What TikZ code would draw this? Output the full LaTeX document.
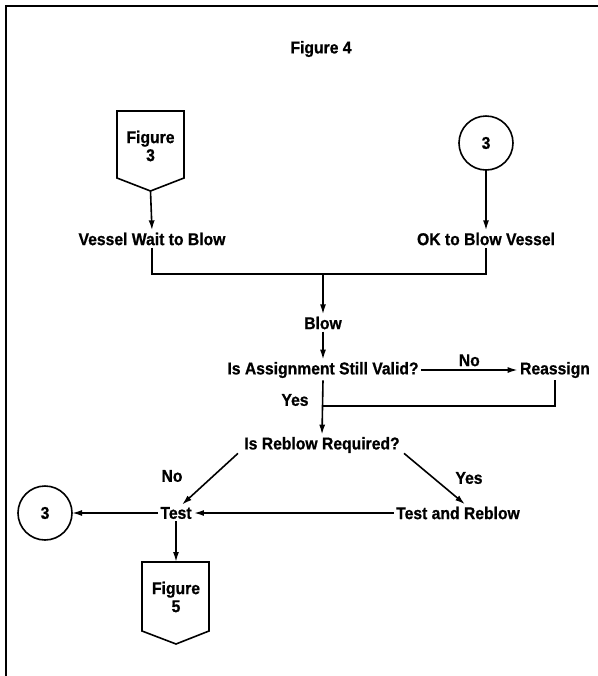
\documentclass[tikz,border=0pt]{standalone}
\usepackage{fontspec}
\setmainfont{Liberation Sans}[BoldFeatures={FakeStretch=0.92,FakeBold=0.8}]
\usetikzlibrary{arrows.meta,calc}
\begin{document}
\begin{tikzpicture}[x=0.75pt,y=-0.75pt,
  every node/.style={font=\bfseries\fontsize{12.8}{13.5}\selectfont, inner sep=1.8pt, outer sep=0pt},
  ln/.style={line width=1.2pt},
  arr/.style={ln,-{Latex[length=7.5pt,width=4.5pt]}},
  circ/.style={draw,circle,ln,minimum size=40.5pt,inner sep=0pt},
  frame/.style={line width=1.5pt},
  offpage/.style={ln,line join=miter},
]
\useasboundingbox (0,0) rectangle (598,676);
\draw[frame] (6,676) -- (6,6) -- (598,6);

\node (title) at (321,49) {Figure 4};

% Figure 3 off-page connector
\draw[offpage] (117,111) -- (184,111) -- (184,178) -- (150.5,191) -- (117,178) -- cycle;
\node[align=center] (f3) at (150.5,146) {Figure\\3};
\coordinate (f3tip) at (150.5,191);

\node (vessel) at (152,239) {Vessel Wait to Blow};
\draw[arr] (f3tip) -- (vessel.north);

\node[circ] (c1) at (486,143) {3};
\node (okv) at (486,239) {OK to Blow Vessel};
\draw[arr] (c1) -- (okv.north);

\coordinate (j1) at (323,274);
\draw[ln] (vessel.south) |- (j1) -| (okv.south);

\node (blow) at (323,323) {Blow};
\draw[arr] (j1) -- (blow.north);

\node (assign) at (323,370) {Is Assignment Still Valid?};
\draw[arr] (blow) -- (assign);

\node (reassign) at (555,370) {Reassign};
\draw[arr] (assign) -- node[above=1pt] (no1) {No} (reassign);

\node (reblow) at (322,445) {Is Reblow Required?};
\coordinate (j2) at (323,406);
\draw[arr] (assign.south) -- (reblow.north);
\draw[ln] (reassign.south) |- (j2);
\node (yes1) at (295,400) {Yes};

\node (test) at (176,513) {Test};
\node (tr) at (458,513) {Test and Reblow};
\draw[arr] ($(reblow.south west)+(-4,-2)$) -- ($(test.north)+(6,0)$);
\draw[arr] ($(reblow.south east)+(2,-2)$) -- ($(tr.north)+(7,0)$);
\node (no2) at (172,476) {No};
\node (yes2) at (469,478) {Yes};

\node[circ] (c2) at (45,513) {3};
\draw[arr] (tr) -- (test);
\draw[arr] (test) -- (c2);

% Figure 5 off-page connector
\draw[offpage] (142,562) -- (209,562) -- (209,631) -- (176,644) -- (142,631) -- cycle;
\node[align=center] (f5) at (176,597) {Figure\\5};
\coordinate (f5top) at (176,562);
\draw[arr] (test.south) -- (f5top);
\end{tikzpicture}
\end{document}
